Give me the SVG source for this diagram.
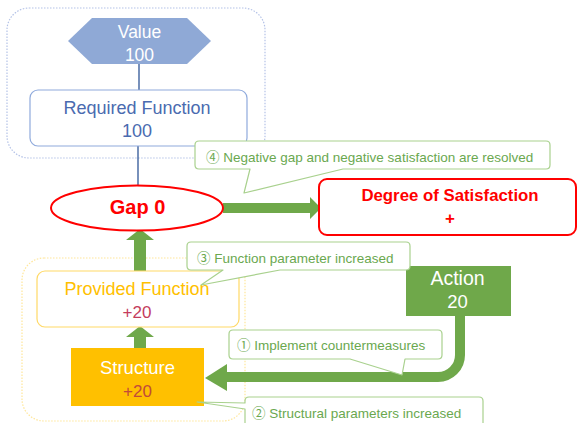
<svg xmlns="http://www.w3.org/2000/svg" width="577" height="423" viewBox="0 0 577 423">
  <style>
    text { font-family: "Liberation Sans", "Noto Sans CJK JP", sans-serif; text-anchor: middle; }
    .callout { fill: #ffffff; stroke: #A9D18E; stroke-width: 1.2; stroke-linejoin: round; }
    .callout-text { fill: #6AA84F; font-size: 13.5px; text-anchor: start; }
    .green-arrow { fill: #6FA84A; }
    .blue-link { stroke: #2F5597; stroke-width: 1.3; fill: none; }
  </style>

  <!-- requirement side container -->
  <rect id="requirement-group" x="7" y="8" width="258" height="150" rx="22" fill="none" stroke="#B4C2E7" stroke-width="1.2" stroke-dasharray="1.5 1.5"/>
  <!-- provision side container -->
  <rect id="provision-group" x="22" y="258" width="223" height="163" rx="22" fill="none" stroke="#FFE699" stroke-width="1.2" stroke-dasharray="1.5 1.5"/>

  <!-- connectors -->
  <g id="connectors">
    <line class="blue-link" x1="139" y1="64" x2="139" y2="90"/>
    <line class="blue-link" x1="138" y1="146" x2="138" y2="186"/>
    <!-- gap to satisfaction -->
    <polygon class="green-arrow" points="223,203 310,203 310,197 321,208 310,219 310,213 223,213"/>
    <!-- provided function to gap -->
    <polygon class="green-arrow" points="134,271 134,240 126,240 140,229 154,240 146,240 146,271"/>
    <!-- structure to provided function -->
    <polygon class="green-arrow" points="134,348 134,337 126,337 140,326 154,337 146,337 146,348"/>
    <!-- action to structure -->
    <path d="M460,316 V355 A22,22 0 0 1 438,377 H226" fill="none" stroke="#6FA84A" stroke-width="10"/>
    <polygon class="green-arrow" points="227,364 205,378 227,391"/>
  </g>

  <g id="value">
    <polygon points="68,41 92,18 187,18 211,41 187,64 92,64" fill="#8FA9D6"/>
    <text x="139.5" y="38" font-size="17.5" fill="#ffffff">Value</text>
    <text x="139.5" y="61" font-size="17.5" fill="#ffffff">100</text>
  </g>

  <g id="required-function">
    <rect x="30" y="90" width="217" height="56" rx="8" fill="#ffffff" stroke="#8FAADC" stroke-width="1.2"/>
    <text x="137" y="114" font-size="18" fill="#4A6BB0">Required Function</text>
    <text x="137" y="137" font-size="18" fill="#4A6BB0">100</text>
  </g>

  <g id="gap">
    <ellipse cx="137" cy="208" rx="86" ry="22.5" fill="#ffffff" stroke="#FF0000" stroke-width="2"/>
    <text x="137.5" y="214" font-size="20" font-weight="bold" fill="#FF0000">Gap 0</text>
  </g>

  <g id="satisfaction">
    <rect x="319" y="179" width="257" height="56" rx="8" fill="#ffffff" stroke="#FF0000" stroke-width="2"/>
    <text x="450" y="201" font-size="16.8" font-weight="bold" fill="#FF0000">Degree of Satisfaction</text>
    <text x="450" y="224" font-size="17" font-weight="bold" fill="#FF0000">+</text>
  </g>

  <g id="provided-function">
    <rect x="37" y="271" width="202" height="56" rx="8" fill="#ffffff" stroke="#FFD966" stroke-width="1.2"/>
    <text x="137" y="295" font-size="18" fill="#FFC000">Provided Function</text>
    <text x="137" y="318" font-size="17" fill="#C43C5C">+20</text>
  </g>

  <g id="structure">
    <rect x="71" y="348" width="133" height="58" fill="#FFC000"/>
    <text x="137.5" y="374" font-size="18.5" fill="#ffffff">Structure</text>
    <text x="137.5" y="397" font-size="17" fill="#C24A3A">+20</text>
  </g>

  <g id="action">
    <rect x="406" y="266" width="105" height="50" fill="#6FA84A"/>
    <text x="457.5" y="285" font-size="19.5" fill="#ffffff">Action</text>
    <text x="457.5" y="308" font-size="18.5" fill="#ffffff">20</text>
  </g>

  <g id="note-resolved">
    <path class="callout" d="M199,141 H546 Q550,141 550,145 V165 Q550,169 546,169 H343 L244,193 L250,169 H199 Q195,169 195,165 V145 Q195,141 199,141 Z"/>
    <text class="callout-text" x="206" y="162">④ Negative gap and negative satisfaction are resolved</text>
  </g>

  <g id="note-function-parameter">
    <path class="callout" d="M191,242 H406 Q410,242 410,246 V266 Q410,270 406,270 H280 L201,285 L223,270 H191 Q187,270 187,266 V246 Q187,242 191,242 Z"/>
    <text class="callout-text" x="197" y="263">③ Function parameter increased</text>
  </g>

  <g id="note-countermeasures">
    <path class="callout" d="M233,330 H438 Q442,330 442,334 V355 Q442,359 438,359 H405 L402,375 L350,359 H233 Q229,359 229,355 V334 Q229,330 233,330 Z"/>
    <text class="callout-text" x="237" y="350">① Implement countermeasures</text>
  </g>

  <g id="note-structural-parameters">
    <path class="callout" d="M249,397 H479 Q483,397 483,401 V430 H245 V409 L197,402 L245,403 V401 Q245,397 249,397 Z"/>
    <text class="callout-text" x="252" y="418">② Structural parameters increased</text>
  </g>
</svg>
